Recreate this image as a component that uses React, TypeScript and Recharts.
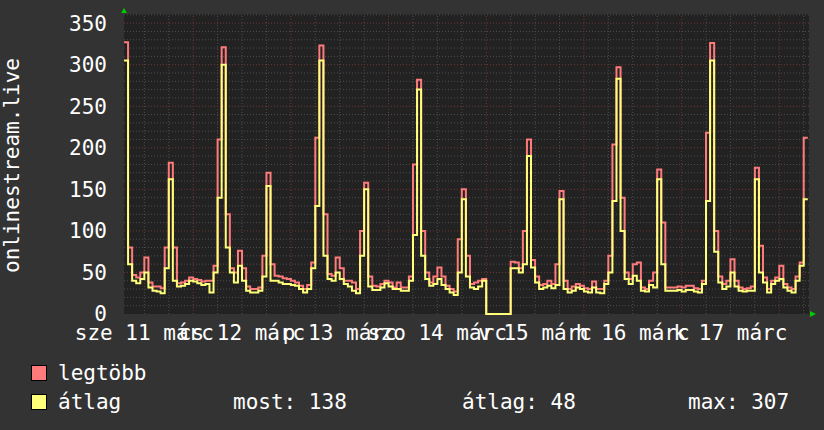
import React from 'react';
import {
  LineChart,
  Line,
  XAxis,
  YAxis,
  ReferenceLine,
  ReferenceArea,
  ReferenceDot
} from 'recharts';

// óránkénti értékek, márc 11 07:00-tól
const maxVals = [
  327, 80, 47, 44, 50, 68, 38, 33, 33, 31, 80, 182, 80, 37, 38, 40, 44, 42, 41, 39,
  40, 40, 58, 210, 321, 120, 55, 50, 76, 55, 33, 30, 30, 32, 70, 170, 60, 46, 45, 43,
  42, 40, 38, 34, 30, 35, 62, 212, 323, 120, 48, 46, 68, 55, 40, 40, 38, 30, 100, 158,
  45, 34, 33, 36, 40, 38, 32, 38, 32, 32, 45, 180, 282, 100, 50, 38, 45, 56, 45, 34,
  30, 27, 90, 150, 70, 36, 38, 40, 42, 0, 0, 0, 0, 0, 0, 63, 62, 55, 100, 210,
  65, 45, 35, 36, 40, 36, 60, 148, 40, 30, 33, 36, 34, 31, 30, 39, 30, 30, 40, 70,
  204, 297, 140, 50, 42, 60, 62, 32, 30, 40, 50, 174, 110, 32, 32, 32, 33, 32, 34, 34,
  31, 30, 40, 218, 326, 100, 45, 36, 40, 66, 40, 32, 30, 31, 33, 176, 82, 44, 30, 40,
  44, 58, 36, 32, 30, 45, 62, 212, 212
];

const avgVals = [
  305, 60, 40, 37, 42, 50, 32, 28, 27, 25, 55, 162, 40, 33, 34, 36, 40, 39, 37, 35,
  36, 26, 50, 140, 300, 80, 50, 38, 58, 40, 28, 26, 26, 28, 45, 154, 40, 40, 38, 36,
  36, 35, 34, 30, 26, 30, 55, 130, 305, 70, 42, 40, 50, 42, 36, 33, 28, 25, 70, 150,
  33, 29, 29, 32, 37, 33, 30, 30, 28, 28, 40, 95, 270, 70, 42, 34, 36, 42, 35, 30,
  26, 23, 50, 138, 45, 32, 30, 33, 40, 0, 0, 0, 0, 0, 0, 55, 55, 50, 60, 190,
  56, 38, 30, 32, 34, 31, 35, 138, 30, 26, 28, 32, 30, 27, 26, 32, 26, 25, 36, 50,
  136, 283, 100, 42, 36, 46, 40, 28, 27, 35, 32, 162, 60, 28, 28, 28, 29, 27, 29, 29,
  27, 26, 36, 136, 305, 75, 38, 30, 33, 50, 33, 28, 27, 28, 28, 162, 50, 38, 26, 36,
  40, 42, 32, 28, 26, 40, 58, 138, 138
];

const dayLabelHours = [5, 29, 53, 77, 101, 125, 149];
const dayLabels = ['sze 11 márc', 'cs 12 márc', 'p 13 márc', 'szo 14 márc', 'v 15 márc', 'h 16 márc', 'k 17 márc'];
const midnightHours = [17, 41, 65, 89, 113, 137, 161];
const sixHourLines = [5, 11, 23, 29, 35, 47, 53, 59, 71, 77, 83, 95, 101, 107, 119, 125, 131, 143, 149, 155, 167];
const yTicks = [0, 50, 100, 150, 200, 250, 300, 350];
const minorY = [10, 20, 30, 40, 60, 70, 80, 90, 110, 120, 130, 140, 160, 170, 180, 190, 210, 220, 230, 240, 260, 270, 280, 290, 310, 320, 330, 340, 360];
const majorY = [50, 100, 150, 200, 250, 300, 350];

const X_END = 168.3;
const Y_TOP = 361;

const FONT = '"DejaVu Sans Mono", monospace';
const PINK = '#ff7b7b';
const YELLOW = '#ffff7a';
const GREEN = '#00cc00';

const data = maxVals.map((m, i) => ({ h: i, max: m, avg: avgVals[i] }));

const App = () => {
  return (
    <div style={{ position: 'absolute', left: 0, top: 0, width: 824, height: 430, background: '#333333' }}>
      <LineChart width={824} height={430} data={data} margin={{ top: 14, right: 15, bottom: 86, left: 0 }}>
        <XAxis
          dataKey="h"
          type="number"
          domain={[0, X_END]}
          ticks={dayLabelHours}
          interval={0}
          tickFormatter={(v) => dayLabels[dayLabelHours.indexOf(v)]}
          tick={{ fill: '#ffffff', fontSize: 21, fontFamily: FONT }}
          tickSize={0}
          tickMargin={11}
          axisLine={false}
          tickLine={false}
          height={30}
        />
        <YAxis
          type="number"
          domain={[0, Y_TOP]}
          ticks={yTicks}
          interval={0}
          tick={{ fill: '#ffffff', fontSize: 21, fontFamily: FONT }}
          tickSize={0}
          tickMargin={17}
          axisLine={false}
          tickLine={false}
          width={124}
          label={{
            content: () => (
              <text
                transform="translate(19,165.5) rotate(-90)"
                textAnchor="middle"
                fill="#ffffff"
                fontSize={21}
                fontFamily={FONT}
              >
                onlinestream.live
              </text>
            )
          }}
        />

        {/* rajzterület háttere */}
        <ReferenceArea x1={0} x2={X_END} y1={0} y2={Y_TOP} fill="#222222" fillOpacity={1} stroke="none" />

        {/* rács */}
        {minorY.map((v) => (
          <ReferenceLine key={'my' + v} y={v} stroke="#4d4d4d" strokeDasharray="1 2" />
        ))}
        {sixHourLines.map((v) => (
          <ReferenceLine key={'mx' + v} x={v} stroke="#4d4d4d" strokeDasharray="1 2" />
        ))}
        {majorY.map((v) => (
          <ReferenceLine key={'My' + v} y={v} stroke="#6e3636" strokeDasharray="1 2" />
        ))}
        {midnightHours.map((v) => (
          <ReferenceLine key={'Mx' + v} x={v} stroke="#6e3636" strokeDasharray="1 2" />
        ))}

        <Line
          type="stepAfter"
          dataKey="max"
          stroke={PINK}
          strokeWidth={2}
          dot={false}
          activeDot={false}
          isAnimationActive={false}
        />
        <Line
          type="stepAfter"
          dataKey="avg"
          stroke={YELLOW}
          strokeWidth={2}
          dot={false}
          activeDot={false}
          isAnimationActive={false}
        />

        {/* tengely nyilak */}
        <ReferenceDot
          x={0}
          y={Y_TOP}
          ifOverflow="visible"
          shape={(p: any) => (
            <polygon points={`${p.cx - 3},${p.cy - 1} ${p.cx + 3},${p.cy - 1} ${p.cx},${p.cy - 6}`} fill={GREEN} />
          )}
        />
        <ReferenceDot
          x={X_END}
          y={0}
          ifOverflow="visible"
          shape={(p: any) => (
            <polygon points={`${p.cx + 1},${p.cy - 3} ${p.cx + 1},${p.cy + 3} ${p.cx + 7},${p.cy}`} fill={GREEN} />
          )}
        />
      </LineChart>

      {/* jelmagyarázat */}
      <svg width={824} height={80} style={{ position: 'absolute', left: 0, top: 350 }}>
        <rect x={31.5} y={15.5} width={15} height={15} fill={PINK} stroke="#000000" />
        <rect x={31.5} y={44.5} width={15} height={15} fill={YELLOW} stroke="#000000" />
        <g fill="#ffffff" fontSize={21} fontFamily={FONT}>
          <text x={58} y={30}>legtöbb</text>
          <text x={58} y={59}>átlag</text>
          <text x={233} y={59}>most: 138</text>
          <text x={462} y={59}>átlag: 48</text>
          <text x={688} y={59}>max: 307</text>
        </g>
      </svg>
    </div>
  );
};

export default App;
